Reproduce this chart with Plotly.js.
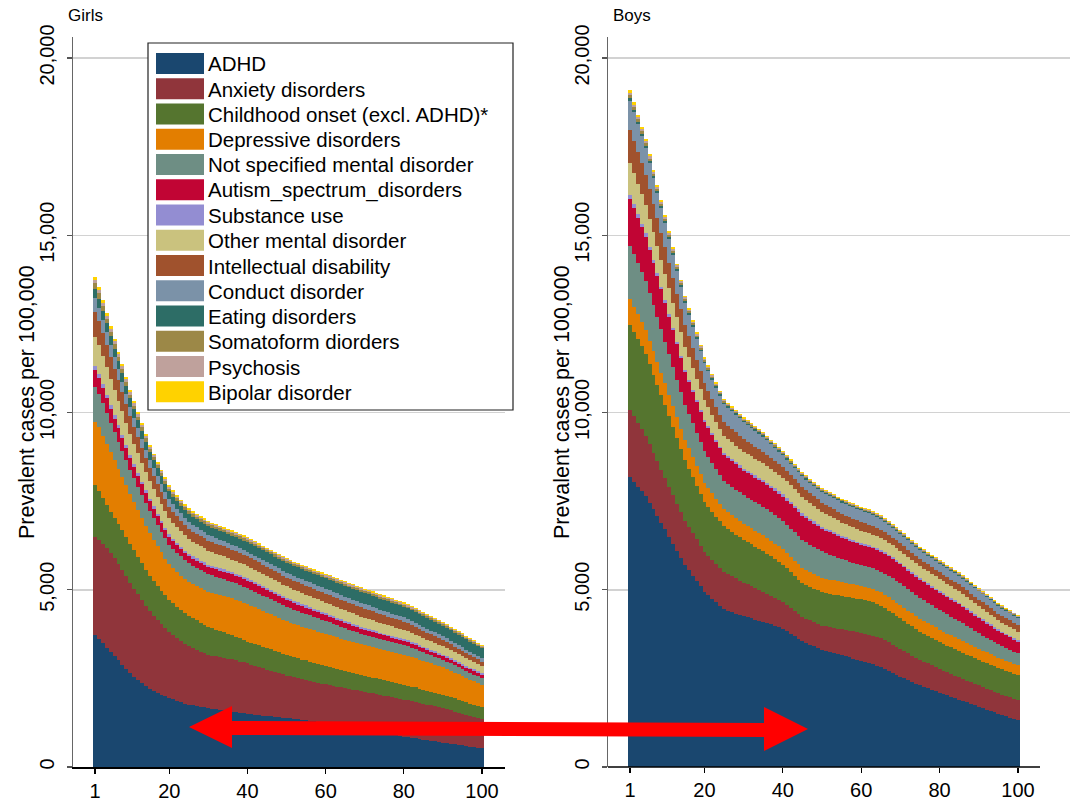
<!DOCTYPE html>
<html><head><meta charset="utf-8">
<script src="https://cdn.plot.ly/plotly-3.0.1.min.js"></script>
<style>html,body{margin:0;padding:0;background:#fff}#chart{width:1077px;height:803px}</style>
</head><body><div id="chart"></div>
<script>
// ---------------- categories / labels ----------------
const categories = ["ADHD","Anxiety disorders","Childhood onset (excl. ADHD)*","Depressive disorders","Not specified mental disorder","Autism_spectrum_disorders","Substance use","Other mental disorder","Intellectual disability","Conduct disorder","Eating disorders","Somatoform diorders","Psychosis","Bipolar disorder"];
const colors = ["#1a476f","#90353b","#55752f","#e37e00","#6e8e84","#c10534","#938dd2","#cac27e","#a0522d","#7b92a8","#2d6d66","#9c8847","#bfa19c","#ffd200"];
const xTickVals = [1,20,40,60,80,100];
const yTickVals = [0,5000,10000,15000,20000];
const panelTitles = ["Girls","Boys"];
const yTitle = "Prevalent cases per 100,000";
const positions = Array.from({length:100},(_,i)=>i+1);

// ---------------- Girls ----------------
const girlsADHD=[3720,3610,3490,3370,3250,3130,3010,2890,2770,2650,2550,2460,2370,2280,2200,2140,2090,2040,1990,1950,1910,1870,1830,1790,1760,1740,1720,1700,1680,1660,1645,1630,1615,1600,1580,1565,1550,1530,1515,1500,1490,1475,1465,1450,1440,1430,1415,1405,1390,1380,1370,1355,1345,1330,1320,1305,1290,1280,1265,1250,1235,1215,1195,1175,1155,1135,1120,1100,1080,1060,1040,1020,1000,980,960,940,920,900,880,860,845,825,810,790,775,760,740,725,705,690,675,660,640,625,610,590,575,560,545,528];
const girlsAnx=[2770,2790,2800,2810,2800,2770,2730,2680,2620,2550,2480,2410,2340,2270,2200,2130,2060,1990,1920,1850,1800,1760,1720,1680,1640,1610,1580,1550,1525,1500,1495,1490,1490,1485,1480,1470,1460,1445,1435,1420,1400,1380,1355,1335,1310,1290,1265,1245,1220,1200,1185,1170,1160,1145,1135,1125,1110,1100,1090,1080,1080,1075,1075,1070,1070,1065,1065,1060,1060,1060,1060,1055,1055,1050,1050,1050,1045,1045,1040,1040,1035,1030,1025,1015,1010,1000,995,985,980,970,955,940,925,910,895,880,865,850,835,818];
const girlsChild=[1460,1380,1290,1210,1150,1130,1120,1110,1105,1100,1085,1065,1045,1020,1000,980,960,945,930,915,905,895,885,880,870,855,840,825,810,795,775,755,735,715,700,685,670,655,635,620,615,612,608,604,600,596,592,588,584,580,574,568,562,556,550,544,538,532,526,520,513,507,500,494,487,481,474,468,461,455,452,448,445,441,438,434,431,427,424,420,416,412,408,404,400,396,392,388,384,380,376,372,368,364,359,355,351,347,343,338];
const girlsDep=[1790,1800,1770,1730,1680,1620,1560,1510,1450,1400,1360,1320,1280,1240,1200,1160,1120,1080,1040,1000,985,975,965,955,950,955,965,975,985,990,1000,1010,1015,1025,1030,1035,1040,1050,1055,1060,1050,1040,1030,1015,1005,995,985,970,960,950,945,940,935,930,925,920,915,910,905,900,896,892,888,884,880,876,872,868,864,860,860,858,857,856,855,854,853,852,851,850,843,835,827,818,810,802,794,786,778,770,756,742,728,713,699,685,671,657,643,629];
const girlsNS=[990,950,910,865,820,790,760,730,705,680,668,656,644,632,620,608,596,584,572,560,554,548,542,536,530,524,518,512,506,500,494,488,482,476,470,465,460,455,450,445,441,438,434,431,427,424,420,417,413,410,405,400,395,390,385,380,375,370,365,360,353,346,339,332,325,318,311,304,297,290,288,286,284,282,280,278,276,274,272,270,264,258,252,246,240,234,228,222,216,210,208,206,204,202,200,197,195,193,191,189];
const girlsAut=[470,452,435,418,400,386,372,358,344,330,318,306,294,282,270,260,250,240,230,220,214,208,202,196,190,192,194,196,198,200,202,204,206,208,210,211,212,213,214,215,213,211,209,207,205,203,201,199,197,195,192,190,187,185,182,180,177,175,172,170,167,164,161,158,155,152,149,146,143,140,138,136,134,132,130,128,126,124,122,120,118,117,115,114,112,111,109,108,106,105,104,103,101,100,99,98,97,96,94,93];
const girlsSub=[113,110,107,103,100,97,94,91,88,85,83,81,79,77,75,74,73,72,71,70,69,68,67,67,66,66,66,66,66,66,66,66,66,66,66,66,66,66,66,66,66,66,66,66,66,66,66,66,66,66,65,64,63,62,61,61,60,59,58,58,57,56,55,55,54,53,52,51,51,50,50,50,49,49,49,49,48,48,48,48,48,48,48,48,48,48,48,48,48,48,48,48,48,48,48,48,48,48,48,48];
const girlsOth=[827,808,789,770,750,720,690,660,630,600,578,556,534,512,490,484,478,472,466,460,452,445,438,430,423,416,410,403,397,390,384,378,372,366,360,356,352,348,344,340,338,335,333,330,328,325,323,320,318,315,314,312,311,309,308,306,305,303,302,300,299,297,296,294,293,291,290,288,287,285,283,280,278,275,273,270,268,265,263,260,257,254,251,248,245,242,239,236,233,230,228,225,223,220,218,216,213,211,208,206];
const girlsInt=[705,684,663,641,620,596,572,548,524,500,474,448,422,396,370,360,350,340,330,320,312,305,297,290,282,282,281,281,280,280,280,280,280,280,280,280,280,280,280,280,277,273,270,266,263,259,256,252,249,245,246,246,247,247,248,248,249,249,250,250,251,252,253,254,255,256,257,258,259,260,257,254,251,248,245,242,239,236,233,230,225,220,215,210,205,200,195,190,185,180,174,168,162,157,151,145,139,134,128,122];
const girlsCon=[378,366,354,342,330,318,306,294,282,270,262,254,246,238,230,226,222,218,214,210,209,208,208,207,206,199,192,184,177,170,165,160,155,150,145,142,139,137,134,131,132,133,134,135,136,136,137,138,139,140,140,139,139,138,138,137,137,136,136,135,135,135,134,134,134,133,133,133,132,132,131,130,129,127,126,125,124,123,121,120,119,117,116,114,113,111,110,108,107,105,104,103,102,101,100,99,98,97,96,95];
const girlsEat=[262,259,256,253,250,248,246,244,242,240,238,236,234,232,230,228,226,224,222,220,219,219,218,218,217,221,224,228,231,235,238,241,244,247,250,253,256,258,261,264,266,267,269,270,272,274,275,277,278,280,282,283,285,286,288,289,291,292,294,295,297,298,300,301,303,304,306,307,309,310,310,309,309,308,308,307,307,306,306,305,304,303,302,301,300,299,298,297,296,295,294,292,291,290,288,287,286,285,283,282];
const girlsSom=[161,153,145,138,130,124,118,112,106,100,97,94,91,88,85,84,83,82,81,80,79,78,77,76,75,74,73,72,71,70,70,69,69,68,68,67,67,66,66,65,65,64,64,63,63,62,62,61,61,60,60,59,59,58,58,57,57,56,56,55,55,55,55,55,55,55,55,55,55,55,55,54,54,53,53,52,52,51,51,50,50,49,49,48,48,47,47,46,46,45,45,44,44,43,43,42,42,41,41,40];
const girlsPsy=[93,90,86,83,80,77,74,71,68,65,63,61,59,57,55,54,53,52,51,50,49,48,47,46,45,44,44,43,43,42,42,42,41,41,41,41,40,40,40,40,40,40,39,39,39,39,38,38,38,38,38,38,38,38,38,38,38,38,38,38,38,38,39,39,39,39,39,40,40,40,40,39,39,38,38,37,37,36,36,35,35,34,34,33,33,32,32,31,31,30,30,30,29,29,29,29,29,28,28,28];
const girlsBip=[77,75,73,72,70,68,66,64,62,60,59,58,57,56,55,54,53,52,51,50,49,48,47,46,45,44,44,43,43,42,41,41,40,39,39,38,38,37,37,36,36,35,35,34,34,33,33,33,32,32,32,32,33,33,33,33,33,34,34,34,34,34,35,35,35,35,35,36,36,36,36,36,35,35,35,34,34,34,33,33,33,32,32,32,31,31,31,30,30,30,30,29,29,29,28,28,27,27,26,26];

// ---------------- Boys ----------------
const boysADHD=[8170,8040,7910,7780,7650,7460,7270,7080,6890,6700,6500,6300,6100,5900,5700,5550,5400,5250,5100,4950,4850,4750,4650,4550,4450,4410,4370,4330,4290,4250,4220,4190,4160,4130,4100,4060,4020,3980,3940,3900,3830,3760,3690,3620,3550,3500,3450,3400,3350,3300,3270,3240,3210,3180,3150,3120,3090,3060,3030,3000,2965,2930,2895,2855,2810,2760,2710,2655,2600,2550,2500,2450,2400,2350,2300,2260,2220,2180,2140,2100,2060,2020,1980,1940,1900,1860,1820,1780,1740,1700,1660,1620,1580,1540,1500,1465,1430,1395,1360,1326];
const boysAnx=[1910,1860,1805,1755,1700,1650,1600,1550,1500,1450,1410,1370,1330,1290,1250,1225,1200,1170,1145,1120,1105,1090,1080,1065,1050,1030,1010,990,970,950,930,910,890,870,850,830,810,790,770,750,735,720,710,695,680,682,684,686,688,690,698,706,714,722,730,742,754,766,778,790,798,806,812,816,818,814,806,798,790,780,768,756,744,732,720,710,700,690,680,670,662,654,646,638,630,624,618,612,606,600,596,592,588,584,580,577,574,570,567,564];
const boysChild=[2400,2380,2355,2330,2300,2250,2200,2150,2100,2050,1980,1910,1840,1770,1700,1640,1580,1520,1460,1400,1378,1356,1334,1312,1290,1272,1254,1236,1218,1200,1190,1180,1170,1160,1150,1132,1114,1096,1078,1060,1038,1016,994,972,950,948,946,944,942,940,940,940,940,940,940,940,940,940,940,940,940,938,934,928,920,910,898,886,873,860,848,836,824,812,800,792,784,776,768,760,756,752,748,744,740,736,732,728,724,720,718,716,714,712,710,709,708,707,706,705];
const boysDep=[720,710,700,690,680,668,656,644,632,620,612,604,596,588,580,574,568,562,556,550,536,522,508,494,480,476,472,468,464,460,457,454,451,448,445,442,439,436,433,430,429,428,427,426,425,422,419,416,413,410,406,402,398,394,390,388,386,384,382,380,379,378,377,376,375,375,375,375,375,375,372,369,366,363,360,357,354,351,348,345,342,339,336,333,330,326,322,318,314,310,307,304,301,298,295,292,290,287,285,282];
const boysNS=[1500,1470,1440,1410,1380,1340,1300,1260,1220,1180,1140,1100,1060,1020,980,962,944,926,908,890,874,858,842,826,810,808,806,804,802,800,800,800,800,800,800,800,800,800,800,800,800,800,800,800,800,788,776,764,752,740,722,704,686,668,650,638,626,614,602,590,586,584,584,586,590,596,602,608,614,620,614,608,602,596,590,582,574,566,558,550,544,538,532,526,520,504,488,472,456,440,428,416,404,392,380,370,360,350,340,330];
const boysAut=[1330,1310,1290,1270,1250,1220,1190,1160,1130,1100,1066,1032,998,964,930,910,890,870,850,830,808,786,764,742,720,716,712,708,704,700,698,696,694,692,690,689,688,687,686,685,684,683,682,681,680,672,664,656,648,640,632,624,616,608,600,594,588,582,576,570,568,566,564,562,560,554,548,542,536,530,526,522,518,514,510,506,502,498,494,490,486,482,478,474,470,460,450,440,430,420,410,400,390,380,370,362,354,346,338,330];
const boysSub=[100,98,95,93,90,88,86,84,82,80,78,76,74,72,70,68,66,64,62,60,58,56,54,52,50,52,54,56,58,60,61,62,63,64,65,66,67,68,69,70,70,70,70,70,70,68,66,64,62,60,59,58,57,56,55,54,53,52,51,50,49,49,48,48,47,47,46,46,45,45,45,45,45,45,45,45,45,45,45,45,45,45,45,45,45,45,45,45,45,45,45,45,45,45,45,45,45,45,45,45];
const boysOth=[900,875,850,825,800,788,776,764,752,740,722,704,686,668,650,630,610,590,570,550,536,522,508,494,480,478,476,474,472,470,470,470,470,470,470,470,470,470,470,470,470,470,470,470,470,460,450,440,430,420,412,404,396,388,380,374,368,362,356,350,348,346,344,342,340,341,342,343,344,345,345,345,345,345,345,344,343,342,341,340,338,336,334,332,330,324,318,312,306,300,292,284,276,268,260,255,250,244,239,234];
const boysInt=[950,925,900,875,850,828,806,784,762,740,716,692,668,644,620,592,564,536,508,480,462,444,426,408,390,384,378,372,366,360,354,348,342,336,330,324,318,312,306,300,296,293,289,286,282,278,273,269,264,260,257,254,251,248,245,244,243,242,241,240,239,238,237,236,235,230,225,220,215,210,207,204,201,198,195,194,192,191,189,188,188,187,187,186,186,186,186,186,186,186,186,187,187,188,188,188,188,189,189,189];
const boysCon=[820,805,790,775,760,744,728,712,696,680,668,656,644,632,620,608,596,584,572,560,552,544,536,528,520,512,504,496,488,480,468,456,444,432,420,402,384,366,348,330,322,314,306,298,290,290,290,290,290,290,296,302,308,314,320,322,324,326,328,330,328,324,318,311,303,295,287,280,274,270,266,262,258,254,250,250,250,250,250,250,250,250,250,250,250,246,242,238,234,230,226,222,218,214,210,206,202,198,194,190];
const boysEat=[70,68,66,64,62,61,59,58,56,55,54,53,52,51,50,49,48,47,46,45,44,43,42,41,40,40,39,39,38,38,38,37,37,37,36,36,36,36,35,35,35,35,34,34,34,34,33,33,33,33,33,33,32,32,32,31,31,31,30,30,30,30,29,29,29,29,28,28,28,28,28,28,28,27,27,27,27,27,27,27,26,26,26,26,26,26,26,26,26,26,26,26,26,25,25,25,25,25,25,25];
const boysSom=[75,73,72,70,68,66,64,62,60,58,57,55,54,53,52,50,49,48,46,45,43,41,39,37,35,35,34,34,33,33,33,33,32,32,32,31,31,31,30,30,30,30,29,29,29,29,29,28,28,28,28,28,28,27,27,27,27,27,26,26,26,26,26,26,25,25,25,25,25,25,25,25,25,25,25,25,25,25,25,25,24,24,24,24,24,24,24,24,24,24,24,24,24,24,23,23,23,23,23,23];
const boysPsy=[70,68,66,64,62,60,58,56,54,52,51,50,48,47,46,45,44,43,41,40,38,36,34,32,30,30,29,29,28,28,28,28,28,27,27,27,27,27,27,26,26,26,26,26,26,26,25,25,25,25,25,25,25,24,24,24,24,24,23,23,23,23,23,23,23,22,22,22,22,22,22,22,22,22,22,22,22,22,22,22,22,22,22,22,22,22,22,22,22,22,22,22,22,22,22,22,22,22,22,22];
const boysBip=[70,68,66,64,62,61,59,58,56,55,54,53,52,51,50,49,48,47,46,45,43,41,39,37,35,35,34,34,33,33,33,33,33,32,32,32,32,32,31,31,31,31,31,31,31,30,30,30,30,30,30,30,30,29,29,29,29,29,29,28,28,28,28,28,28,28,27,27,27,27,27,27,27,27,27,27,27,27,27,27,26,26,26,26,26,26,26,26,26,26,26,26,26,26,25,25,25,25,25,25];

const girlsSeries=[girlsADHD,girlsAnx,girlsChild,girlsDep,girlsNS,girlsAut,girlsSub,girlsOth,girlsInt,girlsCon,girlsEat,girlsSom,girlsPsy,girlsBip];
const boysSeries=[boysADHD,boysAnx,boysChild,boysDep,boysNS,boysAut,boysSub,boysOth,boysInt,boysCon,boysEat,boysSom,boysPsy,boysBip];

// ---------------- build ----------------
const W=1077,H=803;
const px=x=>x/W, py=y=>1-y/H;
const traces=[];
categories.forEach((name,i)=>{
  traces.push({type:'bar',name:name,x:positions,y:girlsSeries[i],xaxis:'x',yaxis:'y',
    marker:{color:colors[i],line:{width:0}},showlegend:false,hoverinfo:'name+x+y'});
});
categories.forEach((name,i)=>{
  traces.push({type:'bar',name:name,x:positions,y:boysSeries[i],xaxis:'x2',yaxis:'y2',
    marker:{color:colors[i],line:{width:0}},showlegend:false,hoverinfo:'name+x+y'});
});

const FONT="Arial, Liberation Sans, Helvetica, sans-serif";
const yTop=37, yBot=767;
const yMax=20000*(yBot-yTop)/(767-58);
function xAxis(l,r,first,last,anchor,line){
  const k=(last-first)/99;
  return {domain:[px(l),px(r)],range:[1-(first-l)/k,100+(r-last)/k],anchor:anchor,
    tickmode:'array',tickvals:xTickVals,ticks:'outside',ticklen:5,tickwidth:1.2,tickcolor:'#000',
    showline:line,linecolor:'#000',linewidth:1.5,showgrid:false,zeroline:false,
    tickfont:{size:20,color:'#000',family:FONT},fixedrange:true};
}
function yAxis(anchor){
  return {domain:[py(yBot),py(yTop)],range:[0,yMax],anchor:anchor,
    tickmode:'array',tickvals:yTickVals,tickformat:',d',tickangle:-90,
    ticks:'outside',ticklen:5,tickwidth:1.2,tickcolor:'#555',ticklabelstandoff:5,
    showline:true,linecolor:'#666',linewidth:1.5,
    showgrid:true,gridcolor:'#d2d2d2',gridwidth:1.5,zeroline:false,
    tickfont:{size:20,color:'#000',family:FONT},fixedrange:true};
}

const shapes=[];
const annotations=[];
// x-axis line of the right panel (shorter than its grid lines)
shapes.push({type:'line',xref:'paper',yref:'paper',x0:px(608),x1:px(1040),y0:py(767),y1:py(767),line:{color:'#000',width:1.5}});

// legend (drawn from categories / colors)
const LX0=148,LX1=513,LY0=43,LY1=410;
shapes.push({type:'rect',xref:'paper',yref:'paper',x0:px(LX0),x1:px(LX1),y0:py(LY1),y1:py(LY0),
  line:{color:'#222',width:1.2},fillcolor:'#fff',layer:'above'});
categories.forEach((name,i)=>{
  const cy=63.5+i*25.25;
  shapes.push({type:'rect',xref:'paper',yref:'paper',x0:px(156),x1:px(204),y0:py(cy+10.5),y1:py(cy-10.5),
    line:{width:0},fillcolor:colors[i],layer:'above'});
  annotations.push({xref:'paper',yref:'paper',x:px(206),y:py(cy+0.5),xanchor:'left',yanchor:'middle',
    text:name,showarrow:false,font:{size:20.5,color:'#000',family:FONT}});
});
// panel titles
annotations.push({xref:'paper',yref:'paper',x:px(66),y:py(16),xanchor:'left',yanchor:'middle',text:panelTitles[0],showarrow:false,font:{size:17,color:'#000',family:FONT}});
annotations.push({xref:'paper',yref:'paper',x:px(611),y:py(16),xanchor:'left',yanchor:'middle',text:panelTitles[1],showarrow:false,font:{size:17,color:'#000',family:FONT}});
// y-axis titles
[27,562].forEach(xc=>{
  annotations.push({xref:'paper',yref:'paper',x:px(xc),y:py(402),xanchor:'center',yanchor:'middle',textangle:-90,
    text:yTitle,showarrow:false,font:{size:21.5,color:'#000',family:FONT}});
});

// red double-headed arrow
const arrowPts=[[189,727],[232,706],[232,721],[764,723],[764,707],[808,729],[764,751],[764,737],[232,735],[232,748]];
const arrowPath='M'+arrowPts.map(p=>px(p[0])+','+py(p[1])).join(' L')+' Z';
shapes.push({type:'path',xref:'paper',yref:'paper',path:arrowPath,fillcolor:'#ff0000',line:{width:0},layer:'above'});

const layout={
  width:W,height:H,margin:{l:0,r:0,t:0,b:0},
  paper_bgcolor:'#fff',plot_bgcolor:'#fff',
  barmode:'stack',bargap:0,
  font:{family:FONT,color:'#000'},
  showlegend:false,
  xaxis:xAxis(73,505,95,482,'y',true),
  yaxis:yAxis('x'),
  xaxis2:xAxis(608,1070,630,1018,'y2',false),
  yaxis2:yAxis('x2'),
  shapes:shapes,annotations:annotations
};
Plotly.newPlot('chart',traces,layout,{displayModeBar:false,staticPlot:true});
</script></body></html>
